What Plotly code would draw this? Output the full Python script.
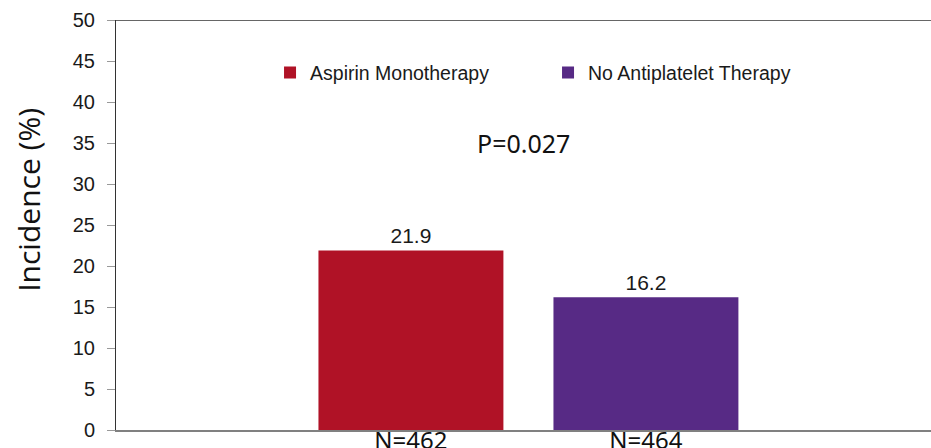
import plotly.graph_objects as go

series_names = ["Aspirin Monotherapy", "No Antiplatelet Therapy"]
n_labels = ["N=462", "N=464"]
incidence = [21.9, 16.2]
colors = ["#B01226", "#572A85"]
p_value_text = "P=0.027"
y_title = "Incidence (%)"
y_ticks = [0, 5, 10, 15, 20, 25, 30, 35, 40, 45, 50]

fig = go.Figure()
for name, nlab, val, col in zip(series_names, n_labels, incidence, colors):
    fig.add_trace(go.Bar(
        x=[nlab], y=[val], name=name,
        marker=dict(color=col, line=dict(width=0)),
        text=[f"{val:.1f}"], textposition="outside",
        textfont=dict(family="Liberation Sans, Arial", size=21, color="#1a1a1a"),
        cliponaxis=False,
    ))

fig.update_layout(
    width=931, height=448,
    margin=dict(l=116, r=0, t=20, b=18),
    paper_bgcolor="white", plot_bgcolor="white",
    barmode="overlay", bargap=0.213,
    showlegend=True,
    legend=dict(
        orientation="h", x=0.189, y=0.871, xanchor="left", yanchor="middle",
        font=dict(family="Liberation Sans, Arial", size=19.5, color="#1a1a1a"),
        entrywidth=233, entrywidthmode="pixels",
        itemwidth=30, bgcolor="rgba(0,0,0,0)",
    ),
    xaxis=dict(
        type="category", range=[-1.255, 2.213], automargin=False,
        showline=True, linecolor="#808080", linewidth=1.5,
        ticks="", showgrid=False, zeroline=False,
        tickfont=dict(family="Noto Sans, Open Sans", size=24, color="#111111"),
        ticklabelstandoff=-12,
    ),
    yaxis=dict(
        range=[0, 50], tickvals=y_ticks, automargin=False,
        showline=True, linecolor="#333333", linewidth=1,
        ticks="outside", ticklen=8, tickcolor="#999999",
        showgrid=False, zeroline=False,
        tickfont=dict(family="Liberation Sans, Arial", size=20, color="#1a1a1a"),
        ticklabelstandoff=8,
    ),
    annotations=[
        dict(
            text=p_value_text, xref="paper", yref="y", x=0.5, y=35.0,
            showarrow=False, xanchor="center", yanchor="middle",
            font=dict(family="Noto Sans, Open Sans", size=25, color="#111111"),
        ),
        dict(
            text=y_title, xref="paper", yref="paper", x=-0.107, y=0.561,
            showarrow=False, xanchor="center", yanchor="middle", textangle=-90,
            font=dict(family="Open Sans, Noto Sans", size=30, color="#111111"),
        ),
    ],
    shapes=[dict(type="line", xref="paper", yref="y", x0=0, x1=1, y0=50, y1=50,
                 line=dict(color="#333333", width=1.5))],
)

fig.write_html(
    "out.html",
    config={"displayModeBar": False},
    post_script="document.body.style.margin='0';document.body.style.overflow='hidden';",
)
